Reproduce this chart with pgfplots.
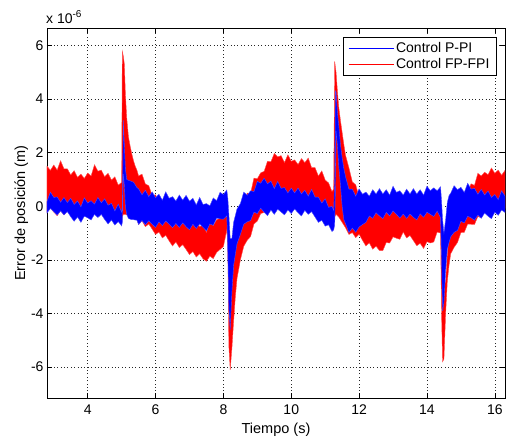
\documentclass[border=0pt]{standalone}
\usepackage{fontspec}
\setmainfont{Liberation Sans}
\usepackage{pgfplots}
\usepackage{pgfplotstable}
\pgfplotsset{compat=1.18}

% each band as one outline: upper edge left to right, lower edge back
% x in s, y in 1e-6 m
\pgfplotstableread{
x y
2.8 1.50
2.9 1.34
3.0 1.54
3.1 1.35
3.2 1.70
3.3 1.40
3.4 1.40
3.5 1.17
3.6 1.33
3.7 1.08
3.8 1.20
3.9 1.04
4.0 1.24
4.1 1.13
4.2 1.55
4.3 1.31
4.4 1.35
4.5 1.10
4.6 1.23
4.7 0.98
4.8 1.10
4.9 0.79
5.0 0.89
5.02 5.78
5.05 5.60
5.08 5.30
5.11 4.20
5.15 3.30
5.20 2.60
5.25 2.25
5.30 1.95
5.35 1.70
5.40 1.50
5.45 1.35
5.5 1.13
5.6 1.20
5.7 0.83
5.8 0.77
5.9 0.40
6.0 0.43
6.1 0.14
6.2 0.23
6.3 -0.11
6.4 -0.06
6.5 -0.37
6.6 -0.10
6.7 -0.39
6.8 -0.40
6.9 -0.60
7.0 -0.42
7.1 -0.64
7.2 -0.50
7.3 -0.76
7.4 -0.69
7.5 -0.97
7.6 -0.58
7.7 -0.72
7.8 -0.50
7.9 -0.45
8.0 0.03
8.1 0.06
8.13 -0.50
8.16 -2.00
8.20 -3.50
8.25 -2.80
8.30 -1.80
8.35 -1.10
8.40 -0.65
8.5 -0.05
8.6 0.04
8.7 0.49
8.8 0.48
8.9 1.05
9.0 1.03
9.1 1.25
9.2 1.30
9.3 1.68
9.4 1.66
9.5 1.97
9.6 1.84
9.7 1.89
9.8 1.63
9.9 1.92
10.0 1.68
10.1 1.73
10.2 1.56
10.3 1.78
10.4 1.63
10.5 1.80
10.6 1.44
10.7 1.44
10.8 1.13
10.9 1.32
11.0 0.98
11.1 0.87
11.2 0.55
11.25 0.65
11.28 5.40
11.32 5.00
11.36 4.30
11.40 3.70
11.45 3.20
11.50 2.75
11.55 2.30
11.60 1.90
11.7 1.43
11.8 0.91
11.9 0.80
12.0 0.34
12.1 0.39
12.2 0.08
12.3 0.30
12.4 -0.02
12.5 0.00
12.6 -0.20
12.7 -0.02
12.8 -0.24
12.9 0.00
13.0 -0.18
13.1 -0.01
13.2 -0.22
13.3 0.12
13.4 -0.07
13.5 0.02
13.6 -0.10
13.7 0.13
13.8 0.03
13.9 0.28
14.0 0.14
14.1 0.36
14.2 0.21
14.3 0.57
14.4 0.28
14.43 -0.50
14.46 -2.00
14.50 -3.00
14.55 -2.80
14.60 -1.80
14.65 -1.10
14.7 -0.70
14.8 -0.45
14.9 0.08
15.0 0.13
15.1 0.53
15.2 0.52
15.3 0.84
15.4 0.78
15.5 1.23
15.6 1.13
15.7 1.27
15.8 1.18
15.9 1.43
16.0 1.23
16.1 1.35
16.2 1.16
16.3 1.34
16.3 -0.07
16.2 0.04
16.1 -0.17
16.0 -0.05
15.9 -0.25
15.8 -0.18
15.7 -0.17
15.6 -0.43
15.5 -0.38
15.4 -0.68
15.3 -0.67
15.2 -0.66
15.1 -0.97
15.0 -0.98
14.9 -1.35
14.8 -1.53
14.7 -1.77
14.65 -2.20
14.60 -2.80
14.55 -4.00
14.50 -5.70
14.46 -5.80
14.43 -4.00
14.4 -1.00
14.3 -0.96
14.2 -1.33
14.1 -1.37
14.0 -1.32
13.9 -1.57
13.8 -1.38
13.7 -1.47
13.6 -1.28
13.5 -1.09
13.4 -1.18
13.3 -0.96
13.2 -1.23
13.1 -1.19
13.0 -1.14
12.9 -1.37
12.8 -1.35
12.7 -1.65
12.6 -1.65
12.5 -1.49
12.4 -1.60
12.3 -1.36
12.2 -1.48
12.1 -1.27
12.0 -1.04
11.9 -1.17
11.8 -0.98
11.7 -1.05
11.60 -0.80
11.55 -0.70
11.50 -0.60
11.45 -0.50
11.40 -0.40
11.36 -0.35
11.32 -0.30
11.28 -0.40
11.25 -0.60
11.2 -0.57
11.1 -0.34
11.0 -0.40
10.9 -0.17
10.8 -0.30
10.7 -0.10
10.6 0.12
10.5 0.03
10.4 0.18
10.3 0.02
10.2 0.15
10.1 0.27
10.0 0.10
9.9 0.26
9.8 0.05
9.7 0.17
9.6 0.26
9.5 -0.02
9.4 0.02
9.3 -0.25
9.2 -0.23
9.1 -0.27
9.0 -0.55
8.9 -0.66
8.8 -1.13
8.7 -1.27
8.6 -1.49
8.5 -2.00
8.40 -2.70
8.35 -3.40
8.30 -4.30
8.25 -5.30
8.20 -6.10
8.16 -5.20
8.13 -1.50
8.1 -0.88
8.0 -1.50
7.9 -1.61
7.8 -1.72
7.7 -1.95
7.6 -1.86
7.5 -2.05
7.4 -1.96
7.3 -1.77
7.2 -1.89
7.1 -1.69
7.0 -1.80
6.9 -1.61
6.8 -1.43
6.7 -1.54
6.6 -1.33
6.5 -1.48
6.4 -1.29
6.3 -1.08
6.2 -1.18
6.1 -0.96
6.0 -1.05
5.9 -0.85
5.8 -0.66
5.7 -0.76
5.6 -0.54
5.5 -0.68
5.45 -0.47
5.40 -0.45
5.35 -0.42
5.30 -0.40
5.25 -0.38
5.20 -0.35
5.15 -0.32
5.11 -0.30
5.08 -0.30
5.05 -0.30
5.02 -0.40
5.0 -0.67
4.9 -0.49
4.8 -0.62
4.7 -0.43
4.6 -0.55
4.5 -0.38
4.4 -0.22
4.3 -0.35
4.2 -0.22
4.1 -0.46
4.0 -0.37
3.9 -0.27
3.8 -0.47
3.7 -0.31
3.6 -0.45
3.5 -0.31
3.4 -0.17
3.3 -0.32
3.2 -0.16
3.1 -0.35
3.0 -0.22
2.9 -0.06
2.8 -0.22
}\fpfpi

\pgfplotstableread{
x y
2.8 0.18
2.9 0.53
3.0 0.33
3.1 0.35
3.2 0.15
3.3 0.33
3.4 0.14
3.5 0.30
3.6 0.07
3.7 0.20
3.8 -0.02
3.9 0.32
4.0 0.12
4.1 0.21
4.2 0.08
4.3 0.33
4.4 0.13
4.5 0.28
4.6 0.04
4.7 0.11
4.8 -0.17
4.9 0.08
5.0 -0.22
5.02 0.00
5.05 3.20
5.08 2.30
5.11 1.40
5.15 1.00
5.20 0.97
5.25 0.95
5.30 0.92
5.35 0.90
5.40 0.80
5.45 0.70
5.5 0.65
5.6 0.43
5.7 0.60
5.8 0.36
5.9 0.54
6.0 0.32
6.1 0.45
6.2 0.23
6.3 0.54
6.4 0.30
6.5 0.36
6.6 0.20
6.7 0.42
6.8 0.23
6.9 0.41
7.0 0.19
7.1 0.30
7.2 0.05
7.3 0.33
7.4 0.07
7.5 0.10
7.6 0.02
7.7 0.31
7.8 0.21
7.9 0.52
8.0 0.44
8.1 0.61
8.13 0.30
8.16 -0.30
8.20 -1.20
8.25 -1.20
8.30 -0.60
8.35 -0.35
8.40 -0.10
8.5 0.10
8.6 0.53
8.7 0.41
8.8 0.58
8.9 0.55
9.0 0.93
9.1 0.86
9.2 1.05
9.3 0.84
9.4 0.94
9.5 0.66
9.6 0.93
9.7 0.67
9.8 0.70
9.9 0.50
10.0 0.68
10.1 0.50
10.2 0.68
10.3 0.46
10.4 0.60
10.5 0.38
10.6 0.63
10.7 0.34
10.8 0.34
10.9 0.12
11.0 0.28
11.1 -0.04
11.2 0.00
11.25 -0.15
11.28 1.00
11.30 4.30
11.32 4.25
11.36 3.50
11.40 3.00
11.45 2.30
11.50 1.80
11.55 1.40
11.60 1.10
11.7 0.64
11.8 0.64
11.9 0.38
12.0 0.65
12.1 0.45
12.2 0.53
12.3 0.38
12.4 0.62
12.5 0.46
12.6 0.66
12.7 0.46
12.8 0.62
12.9 0.42
13.0 0.75
13.1 0.52
13.2 0.58
13.3 0.42
13.4 0.64
13.5 0.46
13.6 0.66
13.7 0.46
13.8 0.62
13.9 0.42
14.0 0.75
14.1 0.58
14.2 0.69
14.3 0.58
14.4 0.73
14.43 0.20
14.46 -0.50
14.50 -1.00
14.55 -0.50
14.60 0.15
14.65 0.40
14.7 0.49
14.8 0.77
14.9 0.62
15.0 0.71
15.1 0.52
15.2 0.86
15.3 0.64
15.4 0.67
15.5 0.45
15.6 0.63
15.7 0.42
15.8 0.57
15.9 0.33
16.0 0.44
16.1 0.25
16.2 0.58
16.3 0.38
16.3 -0.23
16.2 -0.14
16.1 -0.34
16.0 -0.22
15.9 -0.46
15.8 -0.37
15.7 -0.25
15.6 -0.45
15.5 -0.33
15.4 -0.52
15.3 -0.43
15.2 -0.37
15.1 -0.62
15.0 -0.56
14.9 -0.90
14.8 -0.97
14.7 -1.14
14.65 -1.35
14.60 -1.60
14.55 -2.40
14.50 -3.60
14.46 -3.90
14.43 -2.00
14.4 -0.42
14.3 -0.18
14.2 -0.38
14.1 -0.30
14.0 -0.22
13.9 -0.41
13.8 -0.28
13.7 -0.51
13.6 -0.41
13.5 -0.29
13.4 -0.45
13.3 -0.29
13.2 -0.44
13.1 -0.30
13.0 -0.17
12.9 -0.36
12.8 -0.23
12.7 -0.46
12.6 -0.36
12.5 -0.24
12.4 -0.45
12.3 -0.36
12.2 -0.60
12.1 -0.68
12.0 -0.77
11.9 -0.97
11.8 -0.81
11.7 -0.98
11.60 -0.65
11.55 -0.50
11.50 0.00
11.45 0.80
11.40 1.50
11.36 2.30
11.32 2.80
11.30 0.50
11.28 -0.70
11.25 -0.88
11.2 -0.94
11.1 -0.69
11.0 -0.74
10.9 -0.52
10.8 -0.60
10.7 -0.40
10.6 -0.20
10.5 -0.30
10.4 -0.15
10.3 -0.36
10.2 -0.24
10.1 -0.10
10.0 -0.27
9.9 -0.14
9.8 -0.32
9.7 -0.21
9.6 -0.11
9.5 -0.30
9.4 -0.14
9.3 -0.35
9.2 -0.22
9.1 -0.07
9.0 -0.27
8.9 -0.22
8.8 -0.53
8.7 -0.58
8.6 -0.67
8.5 -1.05
8.40 -1.40
8.35 -1.80
8.30 -2.20
8.25 -3.20
8.20 -4.60
8.16 -3.80
8.13 -1.80
8.1 -0.36
8.0 -0.48
7.9 -0.47
7.8 -0.44
7.7 -0.71
7.6 -0.66
7.5 -0.92
7.4 -0.79
7.3 -0.66
7.2 -0.83
7.1 -0.67
7.0 -0.88
6.9 -0.76
6.8 -0.62
6.7 -0.79
6.6 -0.64
6.5 -0.80
6.4 -0.67
6.3 -0.55
6.2 -0.72
6.1 -0.58
6.0 -0.79
5.9 -0.67
5.8 -0.54
5.7 -0.69
5.6 -0.53
5.5 -0.68
5.45 -0.52
5.40 -0.51
5.35 -0.50
5.30 -0.50
5.25 -0.48
5.20 -0.45
5.15 -0.30
5.11 0.00
5.08 0.80
5.05 1.20
5.02 -0.60
5.0 -0.73
4.9 -0.57
4.8 -0.70
4.7 -0.51
4.6 -0.66
4.5 -0.49
4.4 -0.30
4.3 -0.42
4.2 -0.30
4.1 -0.51
4.0 -0.43
3.9 -0.37
3.8 -0.60
3.7 -0.40
3.6 -0.56
3.5 -0.39
3.4 -0.20
3.3 -0.32
3.2 -0.17
3.1 -0.33
3.0 -0.20
2.9 -0.08
2.8 -0.25
}\ppi

\begin{document}
\begin{tikzpicture}
\useasboundingbox (-47pt,-41pt) rectangle (459pt,398pt);
\begin{axis}[
    scale only axis,
    width=458pt, height=370pt,
    xmin=2.8, xmax=16.3,
    ymin=-7.15, ymax=6.65,
    xtick={4,6,8,10,12,14,16},
    xticklabels={4,6,8,10,12,14,16},
    ytick={-6,-4,-2,0,2,4,6},
    yticklabels={-6,-4,-2,0,2,4,6},
    tick align=inside,
    major tick length=5pt,
    tick style={black, line width=0.5pt},
    axis line style={black, line width=0.6pt},
    grid=major,
    major grid style={black!85, line width=0.5pt, dash pattern=on 0.8pt off 2.6pt},
    ticklabel style={font=\fontsize{14}{16}\selectfont},
    xticklabel style={yshift=-3pt},
    xlabel={Tiempo (s)},
    ylabel={Error de posición (m)},
    label style={font=\fontsize{14.5}{17}\selectfont},
    xlabel style={yshift=-2pt},
    ylabel style={yshift=-4pt},
    legend cell align=left,
    legend style={at={(0.982,0.976)}, anchor=north east, draw=black, line width=0.6pt,
        font=\fontsize{14}{16}\selectfont, row sep=1pt, inner xsep=5pt, inner ysep=3pt},
    legend image code/.code={\draw[#1] (0pt,0pt) -- (45pt,0pt);},
]
\addlegendimage{blue, line width=0.8pt}
\addlegendentry{Control P-PI}
\addlegendimage{red, line width=0.8pt}
\addlegendentry{Control FP-FPI}

\addplot[forget plot, fill=red, draw=red!70, line width=0.4pt] table {\fpfpi} -- cycle;
\addplot[forget plot, fill=blue, draw=blue!70, line width=0.4pt] table {\ppi} -- cycle;
\end{axis}
\node[anchor=south west, font=\fontsize{14}{16}\selectfont, inner sep=0pt]
    at (-1pt,374pt) {x 10\raisebox{6pt}{\fontsize{10}{10}\selectfont -6}};
\end{tikzpicture}
\end{document}
